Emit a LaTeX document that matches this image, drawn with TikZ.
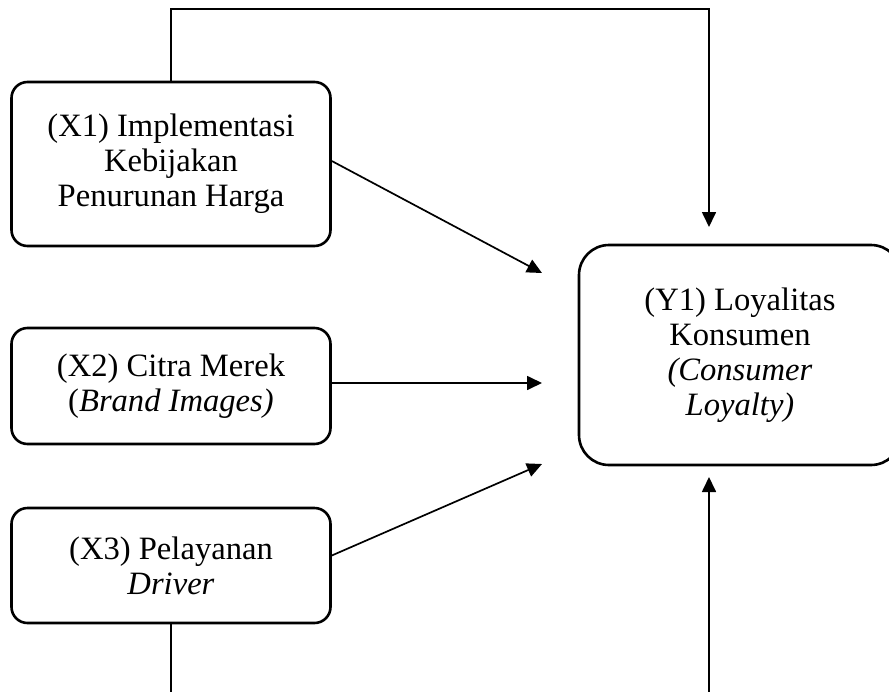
\documentclass[tikz,border=0pt]{standalone}
\usepackage{fontspec}
\setmainfont{Liberation Serif}
\usetikzlibrary{arrows.meta}
\tikzset{
  varbox/.style={draw, rounded corners=16pt, line width=2.6pt, align=center, inner sep=0pt,
    minimum width=319pt, font=\fontsize{32.6}{35}\selectfont},
  conn/.style={line width=1.7pt, -{Triangle[length=15pt,width=14pt]}},
  plain/.style={line width=1.7pt}
}
\begin{document}
\begin{tikzpicture}[x=1pt,y=-1pt]
\useasboundingbox (0,0) rectangle (889,691);

\node[varbox, minimum height=164pt] (X1) at (171,164) {(X1) Implementasi\\Kebijakan\\Penurunan Harga};
\node[varbox, minimum height=116pt] (X2) at (171,386) {(X2) Citra Merek\\(\textit{Brand Images)}};
\node[varbox, minimum height=115pt] (X3) at (171,565.5) {(X3) Pelayanan\\\textit{Driver}};
\node[varbox, rounded corners=30pt, minimum width=322pt, minimum height=220pt] (Y1) at (740,355)
  {(Y1) Loyalitas\\Konsumen\\\textit{(Consumer}\\\textit{Loyalty)}};

\coordinate (t1) at (542,273);
\coordinate (t2) at (542,383);
\coordinate (t3) at (542,464);
\coordinate (ttop) at (709,227);
\coordinate (tbot) at (709,477);

\draw[conn] (X1.north) -- ++(0,-72) -| (ttop);
\draw[conn] ([yshift=3pt]X1.east) -- (t1);
\draw[conn] ([yshift=3pt]X2.east) -- (t2);
\draw[conn] ([yshift=10pt]X3.east) -- (t3);
\draw[plain] (X3.south) -- ++(0,75);
\draw[conn] (tbot |- 0,698) -- (tbot);
\end{tikzpicture}
\end{document}
